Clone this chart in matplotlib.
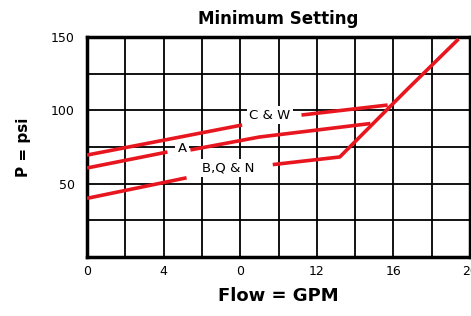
import matplotlib
matplotlib.use("Agg")
import matplotlib.pyplot as plt
import numpy as np

nan = np.nan

# curves (GPM, psi); nan = gap behind a label
cw_gpm = [0, 8.1, nan, 11.2, 15.7]
cw_psi = [69.5, 90, nan, 96.8, 103.6]

a_gpm = [0, 4.2, nan, 5.4, 9.0, 14.8]
a_psi = [60.7, 71.6, nan, 73, 81.8, 91]

bqn_gpm = [0, 5.2, nan, 9.7, 13.2, 16.7, 19.4]
bqn_psi = [40, 54, nan, 63, 68.2, 114, 148.6]

labels = ["C & W", "A", "B,Q & N"]
label_gpm = [9.55, 4.96, 7.36]
label_psi = [96.8, 74, 60.7]

x_ticks = [0, 4, 8, 12, 16, 20]
x_tick_labels = ["0", "4", "0", "12", "16", "20"]
y_ticks = [50, 100, 150]

red = "#e8161f"

fig = plt.figure(figsize=(4.71, 3.16), dpi=100)
ax = fig.add_axes([87 / 471, 59 / 316, 383 / 471, 220 / 316])

ax.set_xlim(0, 20)
ax.set_ylim(0, 150)

# grid every 2 GPM and 25 psi
ax.set_xticks(np.arange(0, 21, 2), minor=True)
ax.set_yticks(np.arange(0, 151, 25), minor=True)
ax.set_xticks(x_ticks)
ax.set_xticklabels(x_tick_labels)
ax.set_yticks(y_ticks)
ax.grid(True, which="both", color="black", linewidth=1.3, zorder=1)
ax.tick_params(which="both", length=0)
ax.tick_params(axis="x", pad=6, labelsize=9)
ax.tick_params(axis="y", pad=9, labelsize=9)
for s in ax.spines.values():
    s.set_linewidth(2.5)

for xs, ys in [(cw_gpm, cw_psi), (a_gpm, a_psi), (bqn_gpm, bqn_psi)]:
    ax.plot(xs, ys, color=red, linewidth=2.6, zorder=3, solid_capstyle="butt")

for t, x, y in zip(labels, label_gpm, label_psi):
    ax.text(x, y, t, ha="center", va="center", fontsize=9.5, zorder=4,
            bbox=dict(facecolor="white", edgecolor="none", pad=1.5))

ax.set_title("Minimum Setting", fontsize=12, fontweight="bold", pad=9)
ax.set_xlabel("Flow = GPM", fontsize=13, fontweight="bold", labelpad=6)
ax.set_ylabel("P = psi", fontsize=11, fontweight="bold", labelpad=14)

fig.savefig("out.png", dpi=100)
